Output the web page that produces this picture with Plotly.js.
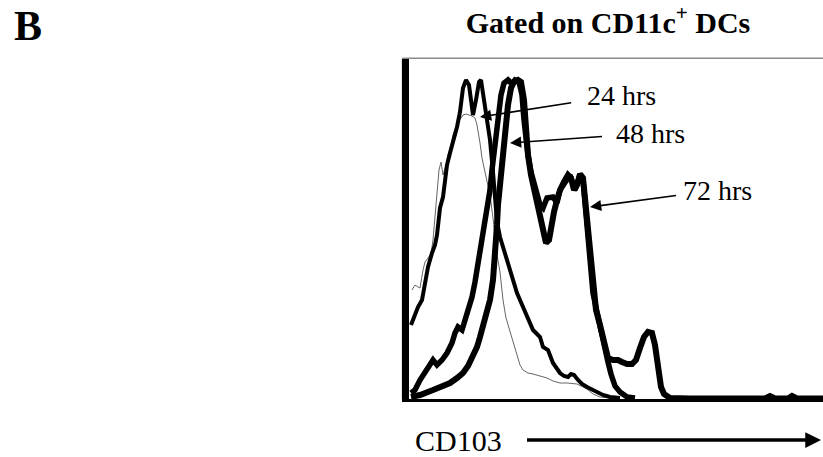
<!DOCTYPE html>
<html>
<head>
<meta charset="utf-8">
<script src="https://cdn.plot.ly/plotly-3.0.1.min.js"></script>
<style>html,body{margin:0;padding:0;background:#fff;}#chart{width:823px;height:457px;}</style>
</head>
<body>
<div id="chart"></div>
<script>
// CD103 fluorescence channel (arbitrary linear units) and event counts
const controlX = [3,6,9,11,14,16,19,22,24,26,28,30,32,34,37,39,42,44,47,49,52,54,57,60,63,66,68,71,73,76,79,81,84,86,88,91,94,97,101,105,108,111,114,119,124,131,138,144,151,158,168,178,184,191,201];
const controlY = [109,114,112,111,129,137,141,145,159,184,204,229,237,224,234,244,254,264,272,277,281,284,285,284,283,281,274,256,241,227,214,204,181,159,144,127,99,81,67,54,42,34,29,26,25,23,21,18,16,16,15,10,5,2,1];

const h24X = [2,4,6,9,13,16,19,23,26,28,31,34,36,38,41,44,48,51,54,57,60,62,64,67,70,72,74,78,81,84,86,88,91,94,98,101,104,108,111,114,118,121,124,128,131,134,139,144,148,151,155,159,162,165,169,173,178,183,188,194,201,211];
const h24Y = [74,79,86,92,99,114,132,146,154,164,191,202,219,234,246,256,272,287,311,319,314,299,284,299,317,319,306,283,259,227,199,177,162,152,139,132,120,106,99,92,82,76,69,65,62,52,49,36,31,26,23,22,25,24,19,15,12,9,7,4,2,1];

const h48X = [2,6,11,16,21,24,28,33,38,43,46,49,53,56,59,63,66,69,71,74,78,81,83,86,89,92,95,99,103,106,110,113,115,117,119,122,125,128,131,134,138,144,148,151,156,161,166,171,174,176,178,181,184,188,191,196,199,202,206,211,218,226];
const h48Y = [6,9,19,27,36,39,34,39,46,56,66,72,69,79,89,102,117,134,146,164,187,209,229,254,284,304,316,319,315,319,317,304,279,259,244,227,214,204,194,191,201,202,196,209,217,224,209,224,219,196,172,139,106,87,72,49,37,25,13,7,2,1];

const h72X = [2,11,24,36,41,48,54,59,64,68,71,76,81,84,86,88,89,91,94,97,99,102,105,109,112,115,117,119,122,126,130,134,137,140,142,145,148,151,155,159,162,165,168,171,174,176,178,181,184,187,191,195,199,204,209,213,218,223,227,231,235,239,243,246,249,252,255,261,281,356,361,366,379,383,388,414];
const h72Y = [2,4,9,14,16,21,26,33,42,52,62,82,99,119,141,174,194,217,239,269,294,311,317,319,317,299,269,244,224,204,184,167,156,159,174,187,199,209,217,224,221,209,214,225,221,199,174,141,109,89,74,54,41,39,39,37,35,35,39,51,62,67,66,54,29,12,5,1,0.5,0.5,3,0.5,0.5,3,0.5,0.5];

const seriesLabels = ["24 hrs", "48 hrs", "72 hrs"];
const titleText = "<b>Gated on CD11c<sup>+</sup> DCs</b>";
const panelLabel = "<b>B</b>";
const axisLabel = "CD103";

const serif = "Liberation Serif";

const traces = [
  {x: controlX, y: controlY, mode: "lines", line: {color: "#666", width: 1}, name: "control"},
  {x: h24X, y: h24Y, mode: "lines", line: {color: "#000", width: 4}, name: seriesLabels[0]},
  {x: h48X, y: h48Y, mode: "lines", line: {color: "#000", width: 5.5}, name: seriesLabels[1]},
  {x: h72X, y: h72Y, mode: "lines", line: {color: "#000", width: 6}, name: seriesLabels[2]}
];

const labelFont = {family: serif, size: 28, color: "#000"};
const arrowCommon = {showarrow: true, arrowhead: 2, arrowsize: 1.4, arrowwidth: 1.6, arrowcolor: "#000", font: labelFont, xref: "x", yref: "y"};

const layout = {
  width: 823, height: 457,
  margin: {l: 409, r: 0, t: 59, b: 58},
  paper_bgcolor: "#fff", plot_bgcolor: "#fff",
  showlegend: false,
  title: {text: titleText, font: {family: serif, size: 30, color: "#000"},
          x: 608/823, xref: "container", xanchor: "center", y: 1 - 22/457, yref: "container", yanchor: "middle"},
  xaxis: {range: [0, 414], showline: true, linecolor: "#000", linewidth: 3, showticklabels: false, ticks: "",
          showgrid: false, zeroline: false, fixedrange: true},
  yaxis: {range: [0, 340], showline: true, linecolor: "#000", linewidth: 7, showticklabels: false, ticks: "",
          showgrid: false, zeroline: false, fixedrange: true},
  shapes: [
    {type: "line", xref: "paper", yref: "paper", x0: -0.0157, x1: -0.0157, y0: 0, y1: 1.002, line: {color: "#8c8c8c", width: 1.5}, layer: "below"},
    {type: "line", xref: "paper", yref: "paper", x0: -0.0157, x1: 1.01, y0: 1.002, y1: 1.002, line: {color: "#8c8c8c", width: 1.5}, layer: "below"}
  ],
  annotations: [
    Object.assign({}, arrowCommon, {text: seriesLabels[0], x: 71, y: 282, ax: 141, ay: -22, startstandoff: 14}),
    Object.assign({}, arrowCommon, {text: seriesLabels[1], x: 101, y: 256, ax: 140, ay: -10, startstandoff: 12}),
    Object.assign({}, arrowCommon, {text: seriesLabels[2], x: 181, y: 192, ax: 127, ay: -17, startstandoff: 5}),
    {text: panelLabel, xref: "paper", yref: "paper", x: (12 - 409)/414, y: (399 - 26)/340, xanchor: "left", yanchor: "middle",
     showarrow: false, font: {family: serif, size: 42, color: "#000"}},
    {text: axisLabel, xref: "paper", yref: "paper", x: (821 - 409)/414, y: (399 - 440)/340, ax: 458 - 821, ay: 0,
     showarrow: true, arrowhead: 2, arrowsize: 0.9, arrowwidth: 3.5, arrowcolor: "#000", startstandoff: 24,
     font: {family: serif, size: 30, color: "#000"}}
  ]
};

Plotly.newPlot("chart", traces, layout, {displayModeBar: false, staticPlot: true});
</script>
</body>
</html>
